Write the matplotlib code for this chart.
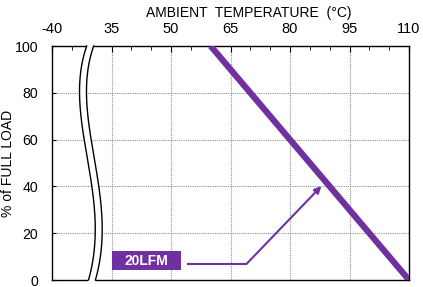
import numpy as np
import matplotlib
matplotlib.use("Agg")
import matplotlib.pyplot as plt
from matplotlib.patches import Rectangle

plt.rcParams['font.family'] = ['Liberation Sans', 'DejaVu Sans']

purple = "#7030A0"

# derating curve
temps = [60, 110]
load = [100, 0]

# top axis: first position stands for -40 (axis break)
xticks = [20, 35, 50, 65, 80, 95, 110]
xticklabels = ["-40", "35", "50", "65", "80", "95", "110"]
yticks = [0, 20, 40, 60, 80, 100]

fig = plt.figure(figsize=(4.23, 2.87), dpi=100)
ax = fig.add_axes([52/423, 7/287, 357/423, 234/287])

ax.plot(temps, load, color=purple, lw=4.5, solid_capstyle="butt", zorder=4)

ax.set_xlim(20, 110)
ax.set_ylim(0, 100)
ax.xaxis.tick_top()
ax.xaxis.set_label_position("top")
ax.set_xticks(xticks)
ax.set_xticklabels(xticklabels)
ax.set_xticks(np.arange(25, 110, 5), minor=True)
ax.set_yticks(yticks)
ax.tick_params(axis="x", which="both", direction="in", labelsize=10.5, pad=7)
ax.tick_params(axis="x", which="major", length=4)
ax.tick_params(axis="x", which="minor", length=3)
ax.tick_params(axis="y", direction="in", length=3, labelsize=10.2, pad=10)
ax.set_xlabel("AMBIENT  TEMPERATURE  (°C)", fontsize=10)
ax.xaxis.set_label_coords((249 - 52) / 357, 1 + 26 / 234)
ax.xaxis.label.set_va("bottom")
ax.set_ylabel("% of FULL LOAD", fontsize=10)
ax.yaxis.set_label_coords((15 - 52) / 357, 0.5)

for x in xticks[1:-1]:
    ax.axvline(x, color="#909090", lw=0.8, ls=(0, (1, 1)), zorder=1)
for y in yticks[1:-1]:
    ax.axhline(y, color="#909090", lw=0.8, ls=(0, (1, 1)), zorder=1)
for s in ax.spines.values():
    s.set_linewidth(1.0)

# axis break squiggle (shape through a few hand-read points)
by = [0, 20, 45, 70, 100]
bx = [29.2, 30.9, 29.6, 27.3, 28.75]
yy = np.linspace(0, 100, 200)
xb = np.polyval(np.polyfit(by, bx, 4), yy)
ax.fill_betweenx(yy, xb, xb + 1.75, color="white", zorder=3, clip_on=False, lw=0)
ax.fill_betweenx([-1, 0.5], xb[0], xb[0] + 1.75, color="white", zorder=3, clip_on=False, lw=0)
ax.fill_betweenx([99.5, 101], xb[-1], xb[-1] + 1.75, color="white", zorder=3, clip_on=False, lw=0)
ax.plot(xb, yy, color="black", lw=1.0, zorder=3.5, clip_on=False)
ax.plot(xb + 1.75, yy, color="black", lw=1.0, zorder=3.5, clip_on=False)

# label box and pointer
ax.add_patch(Rectangle((35.25, 4.3), 17.25, 8.0, fc=purple, ec="none", zorder=5))
ax.text(43.9, 8.3, "20LFM", color="white", fontsize=10, fontweight="bold",
        ha="center", va="center", zorder=6)
ax.plot([54.25, 69], [6.8, 6.8], color=purple, lw=1.5, zorder=5)
ax.annotate("", xy=(87.9, 40.1), xytext=(69, 6.8),
            arrowprops=dict(arrowstyle="-|>", color=purple, lw=1.5,
                            mutation_scale=10, shrinkA=0, shrinkB=0), zorder=5)

fig.savefig("out.png", dpi=100)
